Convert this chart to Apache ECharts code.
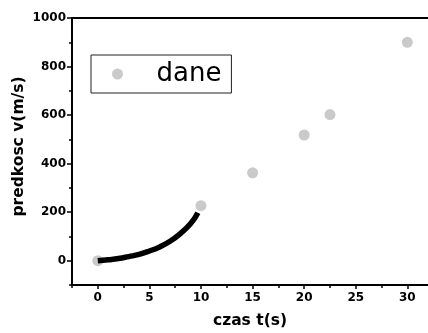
<!DOCTYPE html>
<html>
<head>
<meta charset="utf-8">
<script src="https://cdn.jsdelivr.net/npm/echarts@6/dist/echarts.min.js"></script>
<style>
html,body{margin:0;padding:0;background:#fff;}
#chart{width:428px;height:333px;}
</style>
</head>
<body>
<div id="chart"></div>
<script>
// Measured points ("dane")
var dataT = [0, 10, 15, 20, 22.5, 30];
var dataV = [0, 227, 362, 518, 602, 900];
// Fitted curve (black line)
var curveT = [0, 1, 2, 3, 4, 5, 6, 7, 8, 9, 9.7];
var curveV = [0, 4, 9, 17, 26, 40, 57, 80, 112, 153, 198];
// Tick labels
var xMajor = [0, 5, 10, 15, 20, 25, 30];
var xMinor = [-2.5, 2.5, 7.5, 12.5, 17.5, 22.5, 27.5];
var yMajor = [0, 200, 400, 600, 800, 1000];
var yMinor = [-100, 100, 300, 500, 700, 900];

var font = 'DejaVu Sans';
var chart = echarts.init(document.getElementById('chart'), null, {renderer: 'canvas'});

function pairs(a, b) { return a.map(function (v, i) { return [v, b[i]]; }); }
function plain(v) { return String(v); }

chart.setOption({
  animation: false,
  backgroundColor: '#ffffff',
  grid: {left: 72, right: 0, top: 18, bottom: 48, containLabel: false, outerBoundsMode: 'none'},
  legend: {
    data: ['dane'],
    left: 91, top: 55,
    icon: 'circle',
    itemWidth: 20, itemHeight: 11,
    borderColor: '#222', borderWidth: 1,
    padding: [6, 10, 6, 21],
    textStyle: {fontSize: 26, color: '#000', fontFamily: font, padding: [0, 0, 0, 24]}
  },
  xAxis: [
    {
      type: 'value', min: -2.5, max: 32, position: 'bottom',
      axisLine: {show: true, onZero: false, lineStyle: {color: '#000', width: 2}},
      axisTick: {show: true, customValues: xMajor, length: 4, lineStyle: {color: '#000', width: 1.5}},
      axisLabel: {customValues: xMajor, formatter: plain, color: '#000', fontWeight: 'bold', fontSize: 12, fontFamily: font, margin: 7},
      splitLine: {show: false},
      name: 'czas t(s)', nameLocation: 'middle', nameGap: 28, nameMoveOverlap: false,
      nameTextStyle: {color: '#000', fontWeight: 'bold', fontSize: 15.5, fontFamily: font}
    },
    {
      type: 'value', min: -2.5, max: 32, position: 'bottom',
      axisLine: {show: false, onZero: false},
      axisTick: {show: true, customValues: xMinor, length: 3, lineStyle: {color: '#000', width: 1.5}},
      axisLabel: {show: false},
      splitLine: {show: false}
    },
    {
      type: 'value', min: -2.5, max: 32, position: 'top',
      axisLine: {show: true, onZero: false, lineStyle: {color: '#000', width: 2}},
      axisTick: {show: false},
      axisLabel: {show: false},
      splitLine: {show: false}
    }
  ],
  yAxis: [
    {
      type: 'value', min: -100, max: 1000, position: 'left',
      axisLine: {show: true, onZero: false, lineStyle: {color: '#000', width: 2}},
      axisTick: {show: true, customValues: yMajor, length: 5, lineStyle: {color: '#000', width: 1.5}},
      axisLabel: {customValues: yMajor, formatter: plain, color: '#000', fontWeight: 'bold', fontSize: 12, fontFamily: font, margin: 6},
      splitLine: {show: false},
      name: 'predkosc v(m/s)', nameLocation: 'middle', nameGap: 45, nameMoveOverlap: false,
      nameTextStyle: {color: '#000', fontWeight: 'bold', fontSize: 15.5, fontFamily: font, padding: [0, 0, 0, 10]}
    },
    {
      type: 'value', min: -100, max: 1000, position: 'left',
      axisLine: {show: false, onZero: false},
      axisTick: {show: true, customValues: yMinor, length: 3, lineStyle: {color: '#000', width: 1.5}},
      axisLabel: {show: false},
      splitLine: {show: false}
    }
  ],
  series: [
    {
      name: 'dane', type: 'scatter',
      xAxisIndex: 0, yAxisIndex: 0,
      symbol: 'circle', symbolSize: 11,
      itemStyle: {color: '#bdbdbd'},
      data: pairs(dataT, dataV), z: 2
    },
    {
      name: 'fit', type: 'line',
      xAxisIndex: 0, yAxisIndex: 0,
      smooth: true, showSymbol: false, symbol: 'none',
      lineStyle: {color: '#000', width: 5.5},
      data: pairs(curveT, curveV), z: 3
    }
  ]
});
</script>
</body>
</html>
